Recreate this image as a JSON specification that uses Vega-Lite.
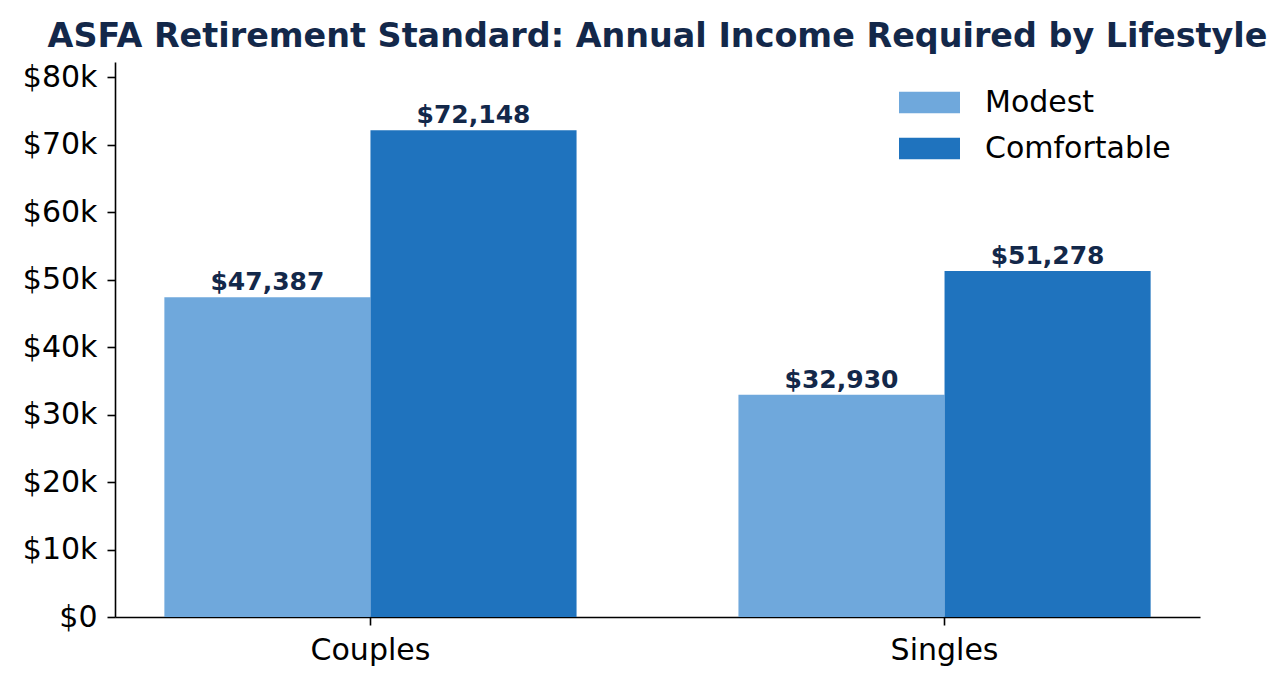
{
  "$schema": "https://vega.github.io/schema/vega-lite/v6.json",
  "autosize": {"type": "none"},
  "padding": {"left": 115, "top": 62, "right": 87, "bottom": 68},
  "width": 1085,
  "height": 555,
  "background": "white",
  "title": {
    "text": "ASFA Retirement Standard: Annual Income Required by Lifestyle",
    "font": "DejaVu Sans",
    "fontSize": 33.4,
    "fontWeight": "bold",
    "color": "#13284a",
    "anchor": "middle",
    "baseline": "bottom",
    "offset": -25
  },
  "config": {
    "view": {"stroke": null},
    "axis": {
      "labelFont": "DejaVu Sans",
      "labelFontSize": 30,
      "labelColor": "black",
      "domainColor": "black",
      "domainWidth": 1.6,
      "tickColor": "black",
      "tickWidth": 1.6,
      "tickSize": 8,
      "grid": false,
      "title": null
    }
  },
  "data": {
    "values": [
      {"Group": "Couples", "Lifestyle": "Modest", "Value": 47387},
      {"Group": "Couples", "Lifestyle": "Comfortable", "Value": 72148},
      {"Group": "Singles", "Lifestyle": "Modest", "Value": 32930},
      {"Group": "Singles", "Lifestyle": "Comfortable", "Value": 51278}
    ]
  },
  "encoding": {
    "x": {
      "field": "Group",
      "type": "nominal",
      "sort": ["Couples", "Singles"],
      "scale": {"paddingInner": 0.282, "paddingOuter": 0.086},
      "axis": {"labelAngle": 0, "labelPadding": 10, "title": null}
    },
    "xOffset": {
      "field": "Lifestyle",
      "type": "nominal",
      "sort": ["Modest", "Comfortable"],
      "scale": {"paddingInner": 0, "paddingOuter": 0}
    },
    "y": {
      "field": "Value",
      "type": "quantitative",
      "scale": {"domain": [0, 82250], "nice": false},
      "axis": {
        "values": [0, 10000, 20000, 30000, 40000, 50000, 60000, 70000, 80000],
        "labelExpr": "datum.value == 0 ? '$0' : '$' + (datum.value / 1000) + 'k'",
        "labelPadding": 10,
        "title": null
      }
    }
  },
  "layer": [
    {
      "mark": {"type": "bar"},
      "encoding": {
        "color": {
          "field": "Lifestyle",
          "type": "nominal",
          "sort": ["Modest", "Comfortable"],
          "scale": {"domain": ["Modest", "Comfortable"], "range": ["#6fa8dc", "#1f73be"]},
          "legend": {
            "title": null,
            "orient": "none",
            "legendX": 784,
            "legendY": 10,
            "padding": 0,
            "symbolType": "M-1,-0.356L1,-0.356L1,0.356L-1,0.356Z",
            "symbolSize": 3721,
            "symbolStrokeWidth": 0,
            "symbolOpacity": 1,
            "labelFont": "DejaVu Sans",
            "labelFontSize": 30,
            "labelColor": "black",
            "labelOffset": 25,
            "labelLimit": 400,
            "rowPadding": -2
          }
        }
      }
    },
    {
      "mark": {
        "type": "text",
        "baseline": "bottom",
        "dy": -2,
        "font": "DejaVu Sans",
        "fontSize": 25,
        "fontWeight": "bold",
        "color": "#13284a"
      },
      "encoding": {
        "text": {"field": "Value", "type": "quantitative", "format": "$,d"}
      }
    }
  ]
}
